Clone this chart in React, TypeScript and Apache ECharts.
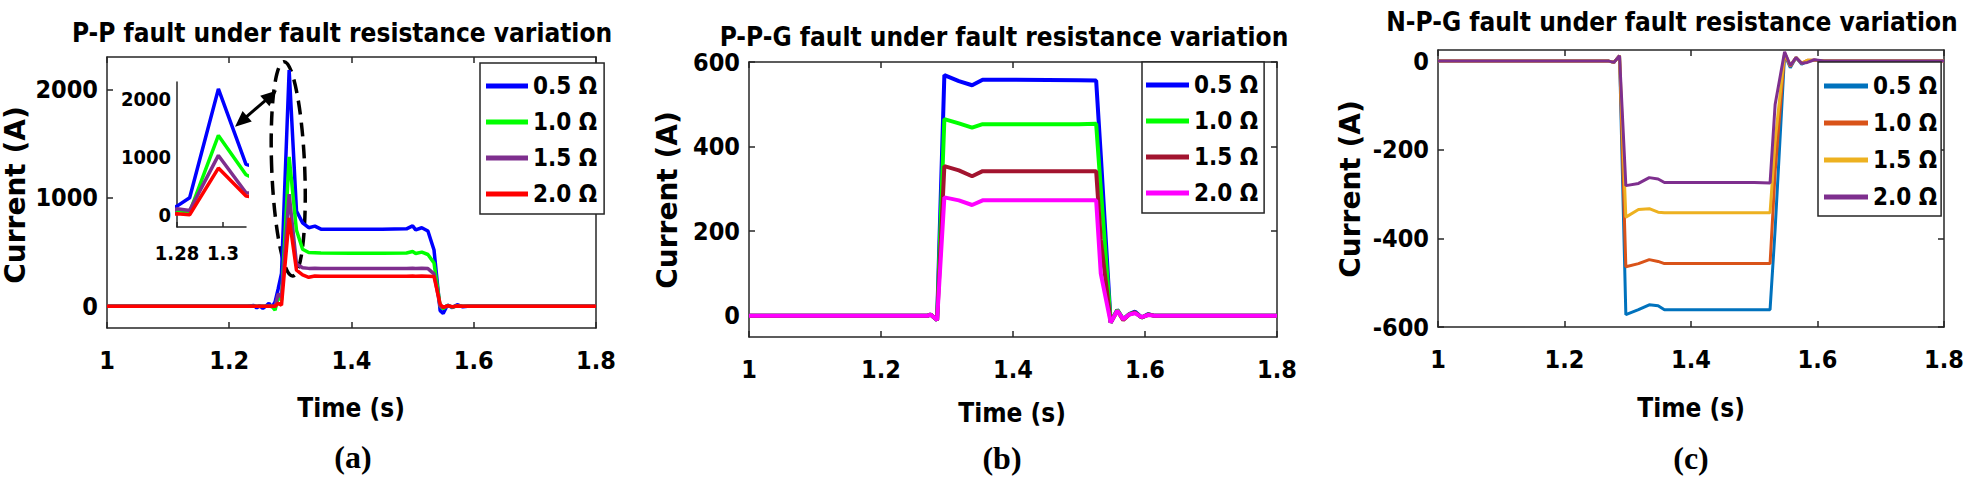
import React, { useEffect, useRef } from 'react';
import * as echarts from 'echarts';

// ---------- data ----------
const seriesNames = ['0.5 Ω', '1.0 Ω', '1.5 Ω', '2.0 Ω'];
const xTicks = [1, 1.2, 1.4, 1.6, 1.8];

// (a) P-P fault
const timeA = [1.0, 1.23, 1.24, 1.245, 1.25, 1.255, 1.26, 1.265, 1.27, 1.275, 1.28, 1.2855, 1.298, 1.31, 1.32, 1.33, 1.34, 1.35, 1.4, 1.45, 1.49, 1.5, 1.505, 1.515, 1.525, 1.535, 1.545, 1.55, 1.557, 1.565, 1.573, 1.582, 1.59, 1.8];
const ppR05 = [0, 0, 8, -15, 5, -18, 2, 28, -8, 40, 160, 305, 2180, 880, 770, 725, 740, 712, 710, 712, 715, 742, 705, 725, 695, 520, -40, -65, 12, -12, 15, -5, 0, 0];
const ppR10 = [0, 0, 0, 0, 0, 0, 0, 0, 0, -35, 86, 57, 1379, 701, 527, 496, 495, 492, 490, 490, 492, 505, 488, 500, 478, 400, 0, -20, 8, -8, 5, 0, 0, 0];
const ppR15 = [0, 0, 0, 0, 0, 0, 0, 0, 0, 0, 115, 86, 1034, 391, 355, 350, 352, 350, 350, 350, 350, 352, 350, 352, 348, 300, 0, -10, 5, -5, 2, 0, 0, 0];
const ppR20 = [0, 0, 0, 0, 0, 0, 0, 0, 0, 0, 29, 11, 816, 333, 290, 268, 280, 278, 278, 278, 278, 280, 278, 280, 278, 275, 20, -10, 5, -3, 2, 0, 0, 0];
const yTicksA = [0, 1000, 2000];
const insetXTicks = [1.28, 1.3];

// (b) P-P-G fault
const timeB = [1.0, 1.27, 1.275, 1.285, 1.296, 1.318, 1.338, 1.354, 1.4, 1.5, 1.526, 1.533, 1.548, 1.558, 1.567, 1.576, 1.585, 1.595, 1.605, 1.615, 1.8];
const ppgR05 = [0, 0, 3, -10, 569, 555, 545, 558, 558, 557, 556, 380, -16, 14, -8, 4, 10, -4, 4, 0, 0];
const ppgR10 = [0, 0, 3, -10, 465, 455, 445, 453, 453, 453, 454, 300, -16, 14, -8, 4, 8, -4, 3, 0, 0];
const ppgR15 = [0, 0, 3, -10, 354, 344, 330, 342, 342, 342, 342, 180, -16, 12, -10, 3, 8, -4, 3, 0, 0];
const ppgR20 = [0, 0, 3, -10, 280, 273, 262, 273, 273, 273, 273, 100, -16, 12, -8, 3, 6, -3, 2, 0, 0];
const yTicksB = [0, 200, 400, 600];

// (c) N-P-G fault
const timeC = [1.0, 1.27, 1.278, 1.287, 1.297, 1.317, 1.334, 1.348, 1.358, 1.4, 1.5, 1.525, 1.533, 1.548, 1.557, 1.566, 1.575, 1.584, 1.595, 1.61, 1.8];
const npgR05 = [0, 0, -3, 12, -572, -561, -550, -552, -561, -561, -561, -561, -380, 15, -15, 8, -7, 0, 2, 0, 0];
const npgR10 = [0, 0, -3, 12, -464, -457, -448, -452, -457, -457, -457, -457, -250, 18, -12, 8, -5, 2, 2, 0, 0];
const npgR15 = [0, 0, -3, 12, -352, -335, -333, -341, -342, -342, -342, -342, -180, 18, -10, 8, -5, 2, 2, 0, 0];
const npgR20 = [0, 0, -3, 12, -281, -276, -263, -266, -274, -274, -274, -275, -98, 21, -10, 8, -5, -3, 3, 0, 0];
const yTicksC = [-600, -400, -200, 0];

// annotation in panel (a) (data units)
const ellipseCenter = [1.2965, 1268];
const ellipseRadius = [0.027, 990];
const arrowFrom = [1.2095, 1657];
const arrowTo = [1.278, 1991];

const colorsA = ['#0000FF', '#00FF00', '#7E2F8E', '#FF0000'];
const colorsB = ['#0000FF', '#00FF00', '#A2142F', '#FF00FF'];
const colorsC = ['#0072BD', '#D95319', '#EDB120', '#7E2F8E'];

// ---------- styling ----------
const NARROW = "'Liberation Sans Narrow', 'Arial Narrow', 'DejaVu Sans Condensed', 'Liberation Sans', sans-serif";
const AX = '#262626';

const fmt = (v: number) => String(Number(v.toFixed(2)));
const fmtInt = (v: number) => String(Math.round(v));

function xAxisPair(gridIndex: number, margin: number) {
  const base = {
    type: 'value', gridIndex, min: 1, max: 1.8,
    splitLine: { show: false },
    axisLine: { show: true, onZero: false, lineStyle: { color: AX, width: 1.5 } },
    axisTick: { show: true, inside: true, length: 6, customValues: xTicks, lineStyle: { color: AX, width: 1.5 } },
  };
  return [
    { ...base, position: 'bottom', axisLabel: { customValues: xTicks, margin, formatter: fmt, fontFamily: NARROW, fontWeight: 'bold', fontSize: 25, color: '#000' } },
    { ...base, position: 'top', axisLabel: { show: false } },
  ];
}

function yAxisPair(gridIndex: number, min: number, max: number, ticks: number[]) {
  const base = {
    type: 'value', gridIndex, min, max,
    splitLine: { show: false },
    axisLine: { show: true, onZero: false, lineStyle: { color: AX, width: 1.5 } },
    axisTick: { show: true, inside: true, length: 6, customValues: ticks, lineStyle: { color: AX, width: 1.5 } },
  };
  return [
    { ...base, position: 'left', axisLabel: { customValues: ticks, margin: 9, formatter: fmtInt, fontFamily: NARROW, fontWeight: 'bold', fontSize: 25, color: '#000' } },
    { ...base, position: 'right', axisLabel: { show: false } },
  ];
}

function lines(xs: number[], ys: number[][], colors: string[], xi: number, yi: number, width: number) {
  return ys.map((vals, k) => ({
    type: 'line', name: seriesNames[k], xAxisIndex: xi, yAxisIndex: yi,
    data: xs.map((t, i) => [t, vals[i]]),
    symbol: 'none', showSymbol: false, silent: true, clip: true,
    lineStyle: { color: colors[k], width }, itemStyle: { color: colors[k] },
  }));
}

function legendFor(colors: string[], left: number, top: number, padding: number[], gap: number, iconW: number) {
  return {
    orient: 'vertical', left, top, padding, itemGap: gap,
    selectedMode: false, icon: 'rect', itemWidth: iconW, itemHeight: 5,
    backgroundColor: '#fff', borderColor: AX, borderWidth: 1.5, borderRadius: 0,
    textStyle: { fontFamily: NARROW, fontWeight: 'bold', fontSize: 24, lineHeight: 24, color: '#000' },
    data: seriesNames.map((n, i) => ({ name: n, itemStyle: { color: colors[i] }, lineStyle: { color: colors[i] } })),
  };
}

function txt(text: string, x: number, y: number, font: string, rotation = 0) {
  return {
    type: 'text', x, y, rotation, silent: true,
    style: { text, font, fill: '#000', textAlign: 'center', textVerticalAlign: 'middle', align: 'center', verticalAlign: 'middle' },
  };
}

export default function App() {
  const ref = useRef<HTMLDivElement>(null);
  useEffect(() => {
    if (!ref.current) return;
    const chart = echarts.init(ref.current, null, { renderer: 'svg' });
    const option: any = {
      animation: false,
      backgroundColor: '#fff',
      grid: [
        { left: 107, top: 57, width: 489, height: 271, outerBoundsMode: 'none' },
        { left: 749, top: 62, width: 528, height: 275, outerBoundsMode: 'none' },
        { left: 1438, top: 50, width: 506, height: 277, outerBoundsMode: 'none' },
        { left: 177, top: 82, width: 69, height: 145, outerBoundsMode: 'none' },
      ],
      xAxis: [
        ...xAxisPair(0, 20),
        ...xAxisPair(1, 20),
        ...xAxisPair(2, 20),
        {
          type: 'value', gridIndex: 3, min: 1.28, max: 1.31, position: 'bottom',
          splitLine: { show: false },
          axisLine: { show: true, onZero: false, lineStyle: { color: AX, width: 1.5 } },
          axisTick: { show: true, inside: true, length: 5, customValues: insetXTicks, lineStyle: { color: AX, width: 1.5 } },
          axisLabel: { customValues: insetXTicks, margin: 16, formatter: fmt, fontFamily: NARROW, fontWeight: 'bold', fontSize: 20, color: '#000' },
        },
      ],
      yAxis: [
        ...yAxisPair(0, -200, 2300, yTicksA),
        ...yAxisPair(1, -50, 600, yTicksB),
        ...yAxisPair(2, -600, 25, yTicksC),
        {
          type: 'value', gridIndex: 3, min: -200, max: 2300, position: 'left',
          splitLine: { show: false },
          axisLine: { show: true, onZero: false, lineStyle: { color: AX, width: 1.5 } },
          axisTick: { show: false },
          axisLabel: { customValues: yTicksA, margin: 6, formatter: fmtInt, fontFamily: NARROW, fontWeight: 'bold', fontSize: 20, color: '#000' },
        },
      ],
      legend: [
        legendFor(colorsA, 480, 63, [11, 7, 8, 6], 12, 42),
        legendFor(colorsB, 1142, 62, [11, 6, 8, 4], 12, 43),
        legendFor(colorsC, 1818, 62, [12, 4, 7, 6], 13, 44),
      ],
      series: [
        ...lines(timeA, [ppR05, ppR10, ppR15, ppR20], colorsA, 0, 0, 3.5),
        ...lines(timeB, [ppgR05, ppgR10, ppgR15, ppgR20], colorsB, 2, 2, 4),
        ...lines(timeC, [npgR05, npgR10, npgR15, npgR20], colorsC, 4, 4, 3),
        ...lines(timeA, [ppR05, ppR10, ppR15, ppR20], colorsA, 6, 6, 3.5),
      ],
    };
    chart.setOption(option);

    const c = chart.convertToPixel({ gridIndex: 0 } as any, ellipseCenter) as number[];
    const e = chart.convertToPixel({ gridIndex: 0 } as any, [ellipseCenter[0] + ellipseRadius[0], ellipseCenter[1] + ellipseRadius[1]]) as number[];
    const rx = Math.abs(e[0] - c[0]);
    const ry = Math.abs(e[1] - c[1]);
    const p1 = chart.convertToPixel({ gridIndex: 0 } as any, arrowFrom) as number[];
    const p2 = chart.convertToPixel({ gridIndex: 0 } as any, arrowTo) as number[];
    const dx = p2[0] - p1[0], dy = p2[1] - p1[1];
    const len = Math.hypot(dx, dy);
    const ux = dx / len, uy = dy / len;
    const hl = 16, hw = 7;
    const head = (tip: number[], dir: number) => {
      const bx = tip[0] - dir * ux * hl, by = tip[1] - dir * uy * hl;
      return [[tip[0], tip[1]], [bx - uy * hw, by + ux * hw], [bx + uy * hw, by - ux * hw]];
    };

    const titleFont = `bold 26px ${NARROW}`;
    const xNameFont = `bold 26px ${NARROW}`;
    const yNameFont = "bold 28px 'DejaVu Sans', sans-serif";
    const tagFont = "bold 32px 'Liberation Serif', 'Times New Roman', serif";

    chart.setOption({
      graphic: [
        txt('P-P fault under fault resistance variation', 342, 33, titleFont),
        txt('P-P-G fault under fault resistance variation', 1004, 37, titleFont),
        txt('N-P-G fault under fault resistance variation', 1672, 22, titleFont),
        txt('Current (A)', 15, 195, yNameFont, Math.PI / 2),
        txt('Current (A)', 667, 200, yNameFont, Math.PI / 2),
        txt('Current (A)', 1350, 189, yNameFont, Math.PI / 2),
        txt('Time (s)', 351, 408, xNameFont),
        txt('Time (s)', 1012, 413, xNameFont),
        txt('Time (s)', 1691, 408, xNameFont),
        txt('(a)', 353, 457, tagFont),
        txt('(b)', 1002, 458, tagFont),
        txt('(c)', 1691, 458, tagFont),
        {
          type: 'ellipse', x: c[0], y: c[1], rotation: 0.04, silent: true,
          shape: { cx: 0, cy: 0, rx, ry },
          style: { fill: 'none', stroke: '#000', lineWidth: 3.5, lineDash: [14, 8] },
        },
        {
          type: 'line', silent: true,
          shape: { x1: p1[0] + ux * 10, y1: p1[1] + uy * 10, x2: p2[0] - ux * 10, y2: p2[1] - uy * 10 },
          style: { stroke: '#000', lineWidth: 3 },
        },
        { type: 'polygon', silent: true, shape: { points: head(p2, 1) }, style: { fill: '#000' } },
        { type: 'polygon', silent: true, shape: { points: head(p1, -1) }, style: { fill: '#000' } },
      ],
    });

    return () => chart.dispose();
  }, []);
  return <div ref={ref} style={{ position: 'fixed', left: 0, top: 0, width: 1967, height: 480, background: '#fff' }} />;
}
